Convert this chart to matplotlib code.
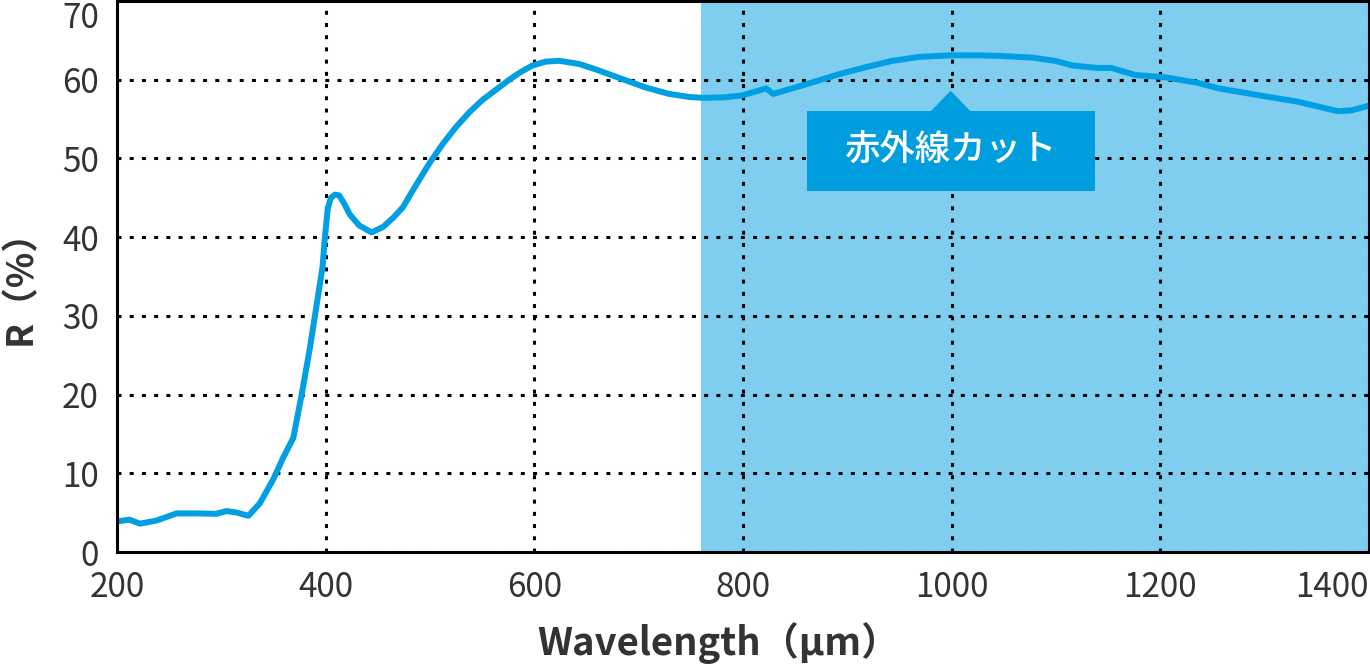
import numpy as np
import matplotlib
matplotlib.use('Agg')
from matplotlib import pyplot as plt
from matplotlib.patches import Polygon, Rectangle

plt.rcParams['font.family'] = ['Noto Sans CJK JP', 'DejaVu Sans']

# reflectance curve
wavelength = [200, 212, 222, 238, 257, 279, 295, 305, 315, 326, 337, 350, 359,
              369, 377, 385, 391, 397, 399, 402, 405, 409, 413, 418, 423, 432,
              444, 455, 465, 474, 487, 500, 512, 525, 538, 550, 563, 576, 586,
              598, 611, 624, 643, 659, 684, 707, 729, 749, 761, 781, 799, 812,
              822, 829, 860, 892, 918, 943, 969, 1000, 1026, 1050, 1078, 1099,
              1116, 1139, 1153, 1176, 1205, 1236, 1256, 1300, 1332, 1370, 1383,
              1400]
reflectance = [3.9, 4.1, 3.6, 4.0, 4.9, 4.9, 4.85, 5.2, 5.0, 4.6, 6.2, 9.3, 11.9,
               14.5, 20.0, 26.0, 31.1, 36.2, 39.6, 43.6, 45.0, 45.4, 45.3, 44.2,
               42.9, 41.5, 40.6, 41.3, 42.5, 43.8, 46.7, 49.5, 51.8, 54.0, 55.9,
               57.4, 58.7, 60.0, 60.9, 61.8, 62.3, 62.4, 62.0, 61.3, 60.1, 59.0,
               58.2, 57.8, 57.7, 57.75, 58.0, 58.5, 58.9, 58.2, 59.4, 60.7, 61.6,
               62.4, 62.9, 63.1, 63.1, 63.0, 62.8, 62.4, 61.8, 61.5, 61.5, 60.6,
               60.3, 59.6, 58.9, 57.9, 57.2, 56.0, 56.1, 56.7]

ir_start = 760
xticks = [200, 400, 600, 800, 1000, 1200, 1400]
yticks = [0, 10, 20, 30, 40, 50, 60, 70]

line_col = '#009FE3'
shade_col = '#7FCDEF'
box_col = '#009DDF'
txt_col = '#333333'

fig = plt.figure(figsize=(13.7, 6.64), dpi=100)
ax = fig.add_axes([117/1370, 112/664, 1252/1370, 551/664])

ax.axvspan(ir_start, 1400, color=shade_col, lw=0, zorder=0)
ax.plot(wavelength, reflectance, color=line_col, lw=4.3, zorder=5,
        solid_joinstyle='round', solid_capstyle='butt')

ax.set_xlim(200, 1400)
ax.set_ylim(0, 70)
ax.set_xticks(xticks)
ax.set_yticks(yticks)
ax.tick_params(length=0, labelsize=24, labelcolor=txt_col, pad=13)
ax.grid(True, color='black', lw=2.2, linestyle=(0, (1.3, 2.7)),
        dash_capstyle='butt', zorder=1)
ax.set_axisbelow(False)
for sp in ax.spines.values():
    sp.set_linewidth(2.2)
    sp.set_color('black')
    sp.set_zorder(6)
for lbl in ax.get_xticklabels():
    if lbl.get_text() == '1400':
        lbl.set_horizontalalignment('right')
for lbl in ax.get_yticklabels():
    if lbl.get_text() == '70':
        lbl.set_verticalalignment('top')

# callout box
ax.add_patch(Rectangle((861, 45.9), 276, 10.15, facecolor=box_col,
                       edgecolor='none', zorder=3))
ax.add_patch(Polygon([(980, 56.0), (1018, 56.0), (999, 58.6)], closed=True,
                     facecolor=box_col, edgecolor='none', zorder=3))
ax.text(999, 51.0, '赤外線カット', color='white', fontsize=25.5,
        fontweight='medium', ha='center', va='center', zorder=4)

fig.text(718/1370, 1 - 643/664, 'Wavelength（μm）', fontsize=27.5,
         fontweight='bold', color=txt_col, ha='center', va='center')
fig.text(20/1370, 1 - 278/664, 'R（%）', fontsize=26.5, fontweight='bold',
         color=txt_col, ha='center', va='center', rotation=90)

fig.savefig('out.png', dpi=100)
